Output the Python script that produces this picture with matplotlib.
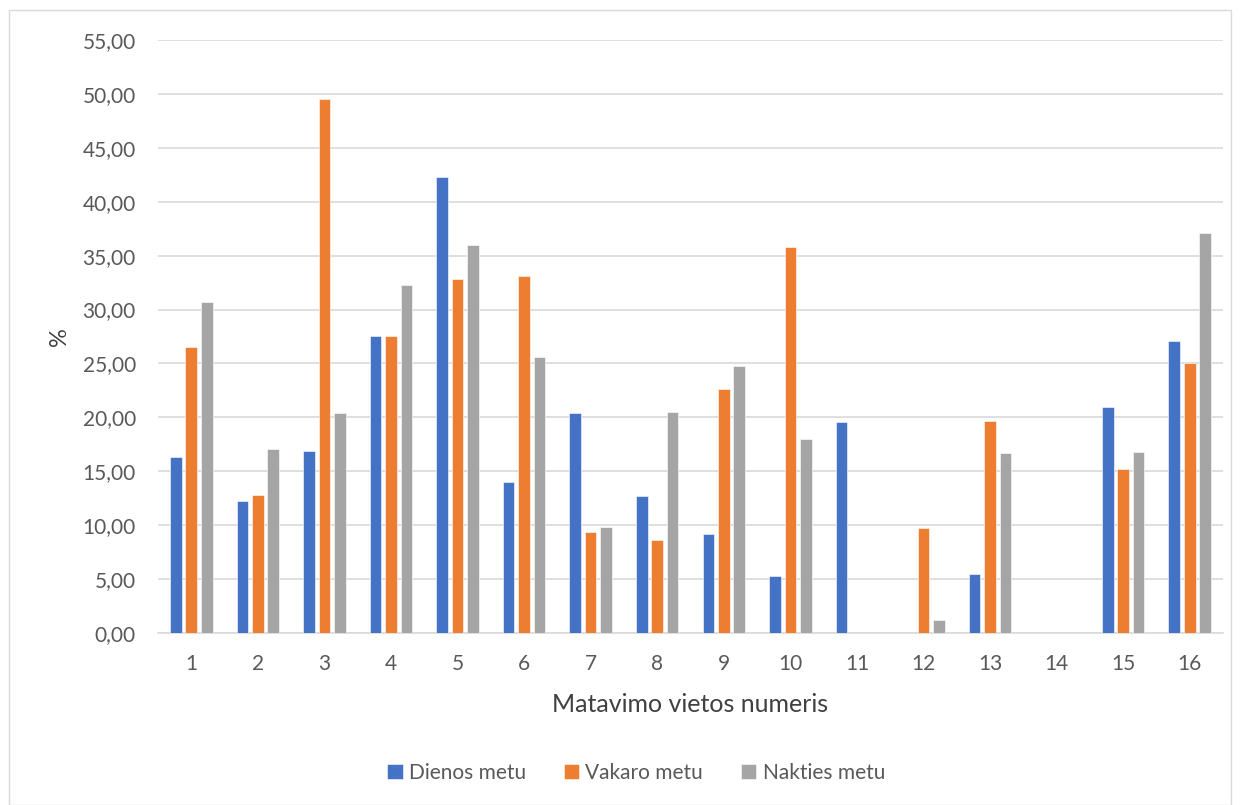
import matplotlib
matplotlib.use("Agg")
import matplotlib.pyplot as plt
import numpy as np
from matplotlib.patches import Rectangle

plt.rcParams['font.family'] = ['Lato', 'DejaVu Sans']

categories = [str(i) for i in range(1, 17)]
dienos = [16.3, 12.2, 16.9, 27.5, 42.3, 14.0, 20.4, 12.7, 9.2, 5.3, 19.6, 0.0, 5.5, 0.0, 21.0, 27.1]
vakaro = [26.5, 12.8, 49.5, 27.5, 32.8, 33.1, 9.4, 8.6, 22.6, 35.8, 0.0, 9.7, 19.7, 0.0, 15.2, 25.0]
nakties = [30.7, 17.1, 20.4, 32.3, 36.0, 25.6, 9.8, 20.5, 24.8, 18.0, 0.0, 1.2, 16.7, 0.0, 16.8, 37.1]
series_names = ["Dienos metu", "Vakaro metu", "Nakties metu"]
colors = ["#4472C4", "#ED7D31", "#A5A5A5"]
y_ticks = np.arange(0, 56, 5)

W, H = 1241, 805
fig = plt.figure(figsize=(W / 100, H / 100), dpi=100)
fig.patches.append(Rectangle((9 / W, 0.0), 1222 / W, 795 / H, transform=fig.transFigure,
                             fill=False, edgecolor="#D9D9D9", linewidth=1))

left, right, top, bottom = 158, 1223, 40, 633
ax = fig.add_axes([left / W, 1 - bottom / H, (right - left) / W, (bottom - top) / H])

x = np.arange(len(categories))
step = 0.232
width = 0.175
for i, (vals, name, c) in enumerate(zip([dienos, vakaro, nakties], series_names, colors)):
    ax.bar(x + (i - 1) * step, vals, width=width, color=c, label=name,
           edgecolor="white", linewidth=0.4, zorder=3)

ax.set_xlim(-0.5, len(categories) - 0.5)
ax.set_ylim(0, 55)
ax.set_yticks(y_ticks)
ax.set_yticklabels([f"{v:.2f}".replace(".", ",") for v in y_ticks])
ax.set_xticks(x)
ax.set_xticklabels(categories)
ax.grid(axis="y", color="#D9D9D9", linewidth=1.2, zorder=0)
ax.set_axisbelow(True)
for s in ["top", "right", "left"]:
    ax.spines[s].set_visible(False)
ax.spines["bottom"].set_color("#D9D9D9")
ax.spines["bottom"].set_linewidth(1.2)
ax.tick_params(axis="y", length=0, labelsize=15, colors="#595959", pad=16)
ax.tick_params(axis="x", length=0, labelsize=15, colors="#595959", pad=15)

ax.set_xlabel("Matavimo vietos numeris", fontsize=18, color="#404040", va="center")
ax.xaxis.set_label_coords(0.5, -(704 - bottom) / (bottom - top))
ax.set_ylabel("%", fontsize=17, color="#404040", va="center")
ax.yaxis.set_label_coords(-(left - 60) / (right - left), 0.5)

fig.legend(loc="center", bbox_to_anchor=(636 / W, 1 - 773 / H), ncol=3, frameon=False,
           fontsize=15, handlelength=0.75, handleheight=0.75, handletextpad=0.3,
           columnspacing=1.8, labelcolor="#595959")

fig.savefig("out.png", dpi=100)
